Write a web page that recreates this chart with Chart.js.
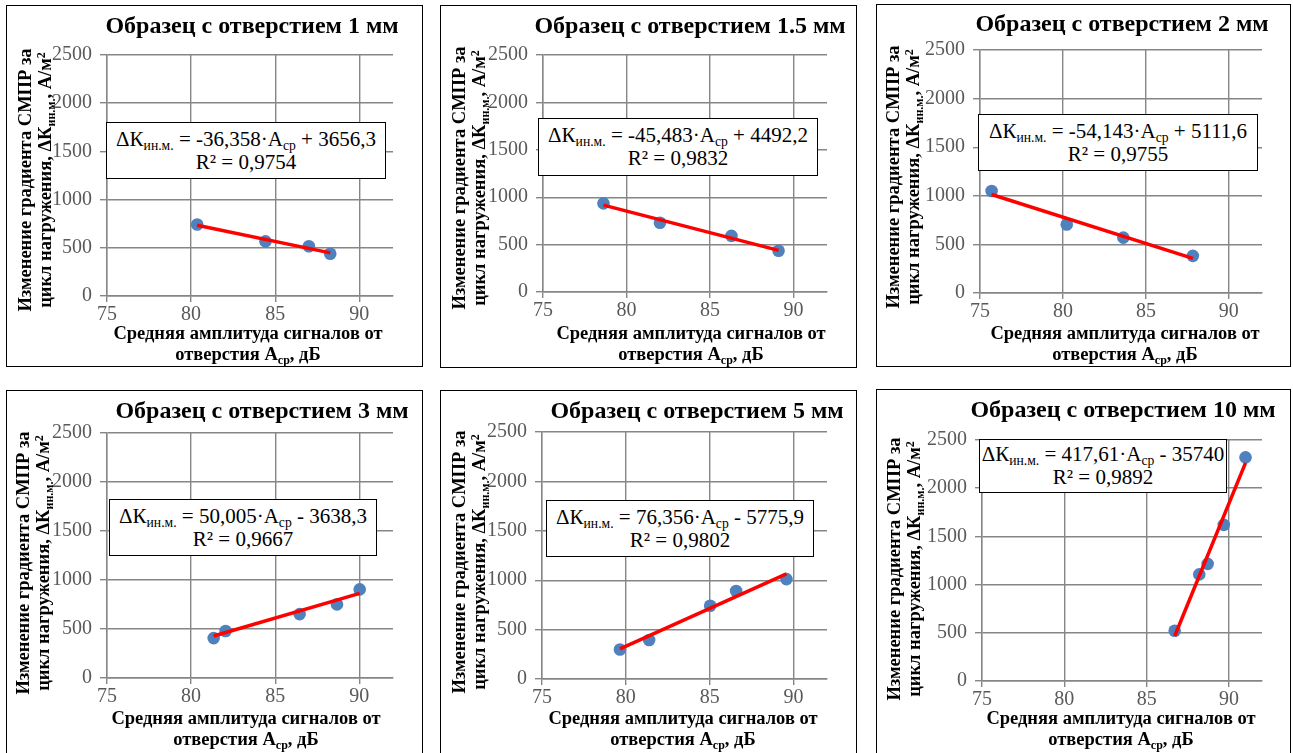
<!DOCTYPE html>
<html lang="ru">
<head>
<meta charset="utf-8">
<title>Изменение градиента СМПР от амплитуды сигналов</title>
<script src="https://cdn.jsdelivr.net/npm/chart.js@4.4.1/dist/chart.umd.min.js"></script>
<style>
    body { margin: 0; width: 1293px; height: 753px; overflow: hidden; position: relative; background: #fff; font-family: 'Liberation Serif', 'Times New Roman', 'DejaVu Serif', serif; color: #000; }
    .panel { position: absolute; border: 1px solid #000; box-sizing: border-box; background: #fff; }
    canvas { position: absolute; }
    .title { position: absolute; width: 420px; font-weight: bold; font-size: 24px; line-height: 28px; text-align: center; white-space: nowrap; }
    .ytitle { position: absolute; width: 320px; height: 40px; font-weight: bold; font-size: 18.5px; line-height: 20px; text-align: center; white-space: nowrap; transform: rotate(-90deg); }
    .xtitle { position: absolute; width: 340px; font-weight: bold; font-size: 18.5px; line-height: 21px; text-align: center; white-space: nowrap; }
    .eq { position: absolute; box-sizing: border-box; border: 1px solid #000; background: #fff; font-size: 21px; line-height: 23px; text-align: center; white-space: nowrap; display: flex; flex-direction: column; justify-content: center; }
    sub { font-size: 0.65em; vertical-align: -0.3em; line-height: 0; }
    sup { font-size: 0.65em; vertical-align: 0.5em; line-height: 0; }
</style>
</head>
<body>
<script>
// диаметры отверстий образцов, мм
const holeSizes = ['1', '1.5', '2', '3', '5', '10'];

// средняя амплитуда сигналов Aср, дБ
const amplitude = [
    [80.36, 84.42, 87.0, 88.27],
    [78.62, 82.0, 86.28, 89.1],
    [75.7, 80.23, 83.64, 87.83],
    [81.34, 82.05, 86.45, 88.67, 90.02],
    [79.65, 81.39, 85.03, 86.58, 89.58],
    [86.7, 88.19, 88.7, 89.68, 91.0]
];

// изменение градиента СМПР ΔKин.м., А/м²
const gradient = [
    [742, 567, 516, 438],
    [935, 730, 592, 435],
    [1050, 704, 570, 382],
    [407, 480, 652, 751, 904],
    [299, 394, 742, 890, 1011],
    [521, 1106, 1215, 1620, 2320]
];

// линейные тренды: ΔK = slope·Aср + intercept
const slopes = [-36.358, -45.483, -54.143, 50.005, 76.356, 417.61];
const intercepts = [3656.3, 4492.2, 5111.6, -3638.3, -5775.9, -35740];
const rSquared = [0.9754, 0.9832, 0.9755, 0.9667, 0.9802, 0.9892];

const xTicks = [75, 80, 85, 90];
const yTicks = [0, 500, 1000, 1500, 2000, 2500];

// размещение панелей на странице
const layout = [
    { box: [6, 5, 423, 367], area: [107, 49, 393, 296], title: [252, 25], ytitle: [35, 180], xtitle: [248, 333], eq: [106, 122, 386, 179] },
    { box: [440, 5, 857, 368], area: [543, 49, 827, 292], title: [690, 25], ytitle: [469, 178], xtitle: [691, 333], eq: [538, 118, 818, 176] },
    { box: [876, 4, 1291, 367], area: [980, 44, 1262, 293], title: [1122, 23], ytitle: [903, 177], xtitle: [1125, 333], eq: [978, 114, 1258, 171] },
    { box: [6, 390, 423, 760], area: [107, 427, 393, 678], title: [262, 410], ytitle: [33, 563], xtitle: [246, 718], eq: [109, 499, 377, 556] },
    { box: [440, 390, 857, 760], area: [542, 426, 827, 679], title: [697, 410], ytitle: [469, 562], xtitle: [683, 718], eq: [546, 500, 814, 557] },
    { box: [876, 389, 1291, 760], area: [982, 434, 1262, 681], title: [1123, 409], ytitle: [904, 569], xtitle: [1121, 718], eq: [979, 439, 1227, 493] }
];

const Y_AXIS_W = 60;
const X_AXIS_H = 40;
const PAD_TOP = 14;
const PAD_RIGHT = 10;
const GRID = '#868686';
const TICK_COLOR = '#595959';

Chart.defaults.font.family = "'Liberation Serif', 'Times New Roman', 'DejaVu Serif', serif";

function fmt(v) {
    return String(v).replace('.', ',');
}

function addEl(cls, html, style) {
    const el = document.createElement('div');
    el.className = cls;
    el.innerHTML = html;
    Object.assign(el.style, style);
    document.body.appendChild(el);
    return el;
}

const Panels = {
    charts: [],

    build(i) {
        const L = layout[i];
        const [bx0, by0, bx1, by1] = L.box;
        addEl('panel', '', { left: bx0 + 'px', top: by0 + 'px', width: (bx1 - bx0) + 'px', height: (by1 - by0) + 'px' });

        // холст графика: область построения задаётся фиксированными размерами осей
        const [ax0, ay0, ax1, ay1] = L.area;
        const canvas = document.createElement('canvas');
        canvas.width = ax1 - ax0 + Y_AXIS_W + PAD_RIGHT;
        canvas.height = ay1 - ay0 + PAD_TOP + X_AXIS_H;
        canvas.style.left = (ax0 - Y_AXIS_W) + 'px';
        canvas.style.top = (ay0 - PAD_TOP) + 'px';
        canvas.style.width = canvas.width + 'px';
        canvas.style.height = canvas.height + 'px';
        document.body.appendChild(canvas);

        const xs = amplitude[i];
        const points = xs.map((x, k) => ({ x, y: gradient[i][k] }));
        const xMin = Math.min(...xs);
        const xMax = Math.max(...xs);
        const trend = [xMin, xMax].map(x => ({ x, y: slopes[i] * x + intercepts[i] }));

        const axisCommon = {
            type: 'linear',
            grid: { color: GRID, lineWidth: 1.4 },
            border: { color: GRID, width: 1.4 },
            ticks: { color: TICK_COLOR, font: { size: 20 }, includeBounds: false, callback: v => String(v) }
        };

        this.charts.push(new Chart(canvas.getContext('2d'), {
            type: 'scatter',
            data: {
                datasets: [{
                    data: trend,
                    showLine: true,
                    borderColor: '#ff0000',
                    borderWidth: 3.5,
                    pointRadius: 0,
                    fill: false
                }, {
                    data: points,
                    pointRadius: 6.3,
                    pointHoverRadius: 6.3,
                    backgroundColor: '#4f81bd',
                    borderColor: '#4f81bd',
                    borderWidth: 0
                }]
            },
            options: {
                responsive: false,
                animation: false,
                events: [],
                layout: { padding: { top: PAD_TOP, right: PAD_RIGHT, left: 0, bottom: 0 } },
                plugins: {
                    legend: { display: false },
                    tooltip: { enabled: false }
                },
                scales: {
                    x: {
                        ...axisCommon,
                        min: 75,
                        max: 92,
                        afterBuildTicks: s => { s.ticks = s.ticks.filter(t => xTicks.includes(t.value)); },
                        afterFit: s => { s.height = X_AXIS_H; },
                        grid: { ...axisCommon.grid, tickLength: 6 },
                        ticks: { ...axisCommon.ticks, stepSize: 5, padding: 1, maxRotation: 0, autoSkip: false }
                    },
                    y: {
                        ...axisCommon,
                        min: 0,
                        max: 2500,
                        afterBuildTicks: s => { s.ticks = s.ticks.filter(t => yTicks.includes(t.value)); },
                        afterFit: s => { s.width = Y_AXIS_W; },
                        grid: { ...axisCommon.grid, tickLength: 7 },
                        ticks: { ...axisCommon.ticks, stepSize: 500, padding: 8 }
                    }
                }
            }
        }));

        // заголовок
        addEl('title', `Образец с отверстием ${holeSizes[i]} мм`, {
            left: (L.title[0] - 210) + 'px', top: (L.title[1] - 14) + 'px'
        });

        // подпись оси Y
        addEl('ytitle', 'Изменение градиента СМПР за<br>цикл нагружения, ΔК<sub>ин.м.</sub>, А/м<sup>2</sup>', {
            left: (L.ytitle[0] - 160) + 'px', top: (L.ytitle[1] - 20) + 'px'
        });

        // подпись оси X
        addEl('xtitle', 'Средняя амплитуда сигналов от<br>отверстия А<sub>ср</sub>, дБ', {
            left: (L.xtitle[0] - 170) + 'px', top: (L.xtitle[1] - 10.5) + 'px'
        });

        // уравнение тренда
        const b = intercepts[i];
        const sign = b < 0 ? ' - ' : ' + ';
        const [ex0, ey0, ex1, ey1] = L.eq;
        addEl('eq',
            `<div>ΔК<sub>ин.м.</sub> = ${fmt(slopes[i])}·А<sub>ср</sub>${sign}${fmt(Math.abs(b))}</div><div>R² = ${fmt(rSquared[i])}</div>`,
            { left: ex0 + 'px', top: ey0 + 'px', width: (ex1 - ex0) + 'px', height: (ey1 - ey0) + 'px' });
    }
};

holeSizes.forEach((_, i) => Panels.build(i));
</script>
</body>
</html>
